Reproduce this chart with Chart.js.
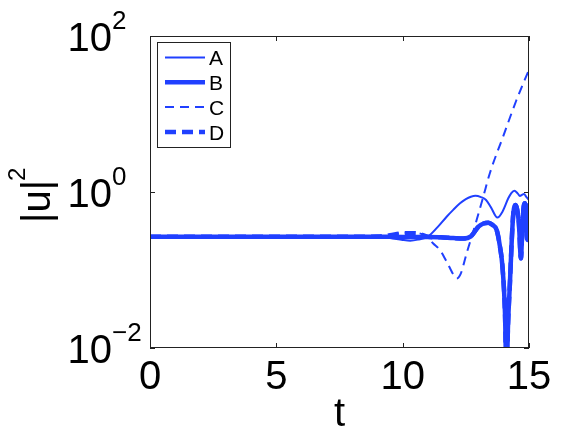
<!DOCTYPE html>
<html>
<head>
<meta charset="utf-8">
<script src="https://cdn.jsdelivr.net/npm/chart.js@4.4.0/dist/chart.umd.min.js"></script>
<style>
  body { margin: 0; background: #fff; }
  canvas { display: block; }
</style>
</head>
<body>
<canvas id="grafica" width="584" height="439"></canvas>
<script>
// valores (t, |u|^2)
var tA = [0, 2, 4, 6, 8, 9, 9.5, 10, 10.3, 10.6, 11.0, 11.4, 11.74, 12.0, 12.27, 12.5, 12.7, 12.88, 13.1, 13.3, 13.5, 13.75, 13.95, 14.18, 14.3, 14.42, 14.55, 14.64, 14.72, 14.8, 14.9, 15.0];
var uA = [0.267, 0.267, 0.267, 0.267, 0.267, 0.266, 0.258, 0.243, 0.238, 0.245, 0.268, 0.36, 0.482, 0.59, 0.717, 0.81, 0.87, 0.895, 0.86, 0.79, 0.63, 0.47, 0.56, 0.83, 0.97, 1.04, 0.96, 0.89, 0.92, 0.94, 0.86, 0.79];

var tB = [0, 2, 4, 6, 8, 9, 10, 11, 11.5, 12.0, 12.4, 12.7, 13.0, 13.2, 13.39, 13.55, 13.72, 13.85, 13.95, 14.05, 14.11, 14.17, 14.25, 14.32, 14.38, 14.47, 14.53, 14.6, 14.68, 14.73, 14.78, 14.84, 14.89, 14.93, 14.97, 15.0];
var uB = [0.267, 0.267, 0.267, 0.267, 0.267, 0.267, 0.265, 0.265, 0.262, 0.257, 0.254, 0.27, 0.359, 0.395, 0.404, 0.38, 0.326, 0.2, 0.11, 0.028, 0.004, 0.02, 0.074, 0.25, 0.533, 0.68, 0.6, 0.4, 0.141, 0.3, 0.6, 0.717, 0.45, 0.243, 0.5, 0.717];

var tC = [0, 2, 4, 6, 8, 9, 9.5, 10, 10.5, 10.8, 11.0, 11.2, 11.48, 11.7, 11.87, 12.0, 12.14, 12.3, 12.53, 12.75, 12.93, 13.19, 13.45, 14.0, 14.5, 15.0];
var uC = [0.267, 0.267, 0.267, 0.267, 0.267, 0.268, 0.28, 0.30, 0.30, 0.285, 0.26, 0.22, 0.18, 0.135, 0.106, 0.088, 0.078, 0.09, 0.163, 0.28, 0.44, 0.87, 1.74, 5.4, 15, 37];

var tD = [0, 2, 4, 6, 8, 9, 9.5, 10, 10.5, 10.8, 11.0, 11.5, 12.0, 12.4, 12.7, 13.0, 13.2, 13.39, 13.55, 13.72, 13.85, 13.95, 14.05, 14.11, 14.17, 14.25, 14.32, 14.38, 14.47, 14.53, 14.6, 14.68, 14.73, 14.78, 14.84, 14.89, 14.93, 14.97, 15.0];
var uD = [0.267, 0.267, 0.267, 0.267, 0.267, 0.268, 0.28, 0.295, 0.295, 0.28, 0.267, 0.262, 0.257, 0.254, 0.27, 0.359, 0.395, 0.404, 0.38, 0.326, 0.2, 0.11, 0.028, 0.004, 0.02, 0.074, 0.25, 0.533, 0.68, 0.6, 0.4, 0.141, 0.3, 0.6, 0.717, 0.45, 0.243, 0.5, 0.717];

var nombres = ['A', 'B', 'C', 'D'];
var xTicks = [0, 5, 10, 15];
var yTicks = [0.01, 1, 100];
var yTickExp = ['\u22122', '0', '2'];

var azul = '#2040ff';
var fuente = "'Liberation Sans', Arial, sans-serif";

function puntos(t, u){
  return t.map(function(v, i){ return {x: v, y: u[i]}; });
}

// caja, marcas, etiquetas del eje y y leyenda
var extras = {
  id: 'extras',
  afterDraw: function(chart){
    var ctx = chart.ctx;
    var area = chart.chartArea;
    var xs = chart.scales.x;
    var ys = chart.scales.y;
    ctx.save();

    ctx.strokeStyle = '#222';
    ctx.lineWidth = 1;
    ctx.strokeRect(area.left + 0.5, area.top + 0.5, area.right - area.left - 1, area.bottom - area.top - 1);

    ctx.beginPath();
    xTicks.forEach(function(v){
      var px = Math.round(xs.getPixelForValue(v)) + 0.5;
      ctx.moveTo(px, area.bottom); ctx.lineTo(px, area.bottom - 5);
      ctx.moveTo(px, area.top); ctx.lineTo(px, area.top + 5);
    });
    yTicks.forEach(function(v){
      var py = Math.round(ys.getPixelForValue(v)) + 0.5;
      ctx.moveTo(area.left, py); ctx.lineTo(area.left + 5, py);
      ctx.moveTo(area.right, py); ctx.lineTo(area.right - 5, py);
    });
    ctx.stroke();

    // etiquetas 10^n
    ctx.fillStyle = '#000';
    ctx.textBaseline = 'alphabetic';
    yTicks.forEach(function(v, i){
      var py = ys.getPixelForValue(v);
      ctx.font = '40px ' + fuente;
      ctx.textAlign = 'right';
      ctx.fillText('10', 112, py + 15);
      ctx.font = '26px ' + fuente;
      ctx.textAlign = 'left';
      ctx.fillText(yTickExp[i], 112, py - 7);
    });

    // titulo del eje y
    ctx.save();
    ctx.translate(50, 223);
    ctx.rotate(-Math.PI / 2);
    ctx.font = '40px ' + fuente;
    ctx.textAlign = 'left';
    ctx.fillText('|u|', 0, 0);
    var w = ctx.measureText('|u|').width;
    ctx.font = '24px ' + fuente;
    ctx.fillText('2', w - 1, -25);
    ctx.restore();

    // leyenda
    ctx.fillStyle = '#fff';
    ctx.fillRect(158, 43, 72, 104);
    ctx.strokeStyle = '#222';
    ctx.lineWidth = 1;
    ctx.strokeRect(157.5, 42.5, 73, 105);
    chart.data.datasets.forEach(function(ds, i){
      var y = 57.5 + i * 24.8;
      ctx.strokeStyle = ds.borderColor;
      ctx.lineWidth = ds.borderWidth;
      ctx.setLineDash(ds.borderDash || []);
      ctx.beginPath();
      ctx.moveTo(165, y); ctx.lineTo(205, y);
      ctx.stroke();
      ctx.setLineDash([]);
      ctx.fillStyle = '#000';
      ctx.font = '21px ' + fuente;
      ctx.textBaseline = 'middle';
      ctx.fillText(ds.label, 209, y + 2);
    });

    ctx.restore();
  }
};

var grafica = new Chart(document.getElementById('grafica'), {
  type: 'line',
  data: {
    datasets: [
      { label: nombres[0], data: puntos(tA, uA), borderColor: azul, borderWidth: 2, clip: 0 },
      { label: nombres[1], data: puntos(tB, uB), borderColor: azul, borderWidth: 4.5, clip: 0 },
      { label: nombres[2], data: puntos(tC, uC), borderColor: azul, borderWidth: 2, borderDash: [9, 6], clip: 0 },
      { label: nombres[3], data: puntos(tD, uD), borderColor: azul, borderWidth: 4.5, borderDash: [11, 6], clip: 0 }
    ]
  },
  options: {
    responsive: false,
    animation: false,
    devicePixelRatio: 1,
    layout: { padding: { top: 36, right: 55, left: 0, bottom: 0 } },
    plugins: { legend: { display: false }, tooltip: { enabled: false } },
    elements: {
      point: { radius: 0 },
      line: { cubicInterpolationMode: 'monotone', fill: false }
    },
    scales: {
      x: {
        type: 'linear', min: 0, max: 15,
        grid: { display: false, drawTicks: false },
        border: { display: false },
        ticks: { stepSize: 5, padding: 6, color: '#000', maxRotation: 0, autoSkip: false,
                 font: { family: fuente, size: 40 } },
        title: { display: true, text: 't', color: '#000', padding: 0,
                 font: { family: fuente, size: 40 } },
        afterFit: function(s){ s.height = 91; }
      },
      y: {
        type: 'logarithmic', min: 0.01, max: 100,
        grid: { display: false, drawTicks: false },
        border: { display: false },
        ticks: { display: false },
        afterFit: function(s){ s.width = 150; }
      }
    }
  },
  plugins: [extras]
});
</script>
</body>
</html>
